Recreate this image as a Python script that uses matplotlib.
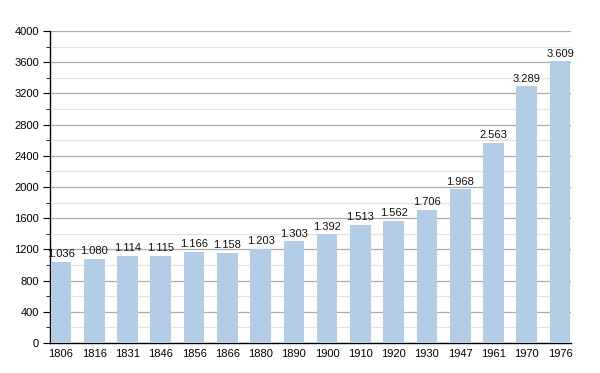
import matplotlib
matplotlib.use("Agg")
import matplotlib.pyplot as plt
from matplotlib.ticker import MultipleLocator

years = ["1806", "1816", "1831", "1846", "1856", "1866", "1880", "1890", "1900",
         "1910", "1920", "1930", "1947", "1961", "1970", "1976"]
population = [1036, 1080, 1114, 1115, 1166, 1158, 1203, 1303, 1392,
              1513, 1562, 1706, 1968, 2563, 3289, 3609]
value_labels = ["1.036", "1.080", "1.114", "1.115", "1.166", "1.158", "1.203", "1.303", "1.392",
                "1.513", "1.562", "1.706", "1.968", "2.563", "3.289", "3.609"]

plt.rcParams['font.family'] = ['Liberation Sans', 'DejaVu Sans']

fig = plt.figure(figsize=(6, 3.73), dpi=100)
ax = fig.add_axes([50/600, 1-343/373, (571-50)/600, (343-31)/373])

x = list(range(len(years)))
ax.bar(x, population, width=0.62, color="#b3cde6", zorder=3)
for xi, v, lab in zip(x, population, value_labels):
    ax.text(xi, v + 35, lab, ha="center", va="bottom", fontsize=8, color="#111111", zorder=4)

ax.set_xlim(-0.33, 15.33)
ax.set_ylim(0, 4000)
ax.yaxis.set_major_locator(MultipleLocator(400))
ax.yaxis.set_minor_locator(MultipleLocator(200))
ax.grid(axis="y", which="major", color="#aaaaaa", linewidth=0.9, zorder=0)
ax.grid(axis="y", which="minor", color="#e3e3e3", linewidth=0.9, zorder=0)
ax.set_xticks(x)
ax.set_xticklabels(years)
ax.tick_params(axis="x", length=0, labelsize=8, pad=4)
ax.tick_params(axis="y", which="major", length=5, labelsize=8, pad=3)
ax.tick_params(axis="y", which="minor", length=3)
for s in ["top", "right"]:
    ax.spines[s].set_visible(False)
ax.spines["left"].set_linewidth(1)
ax.spines["bottom"].set_linewidth(1)

fig.savefig("out.png", dpi=100)
